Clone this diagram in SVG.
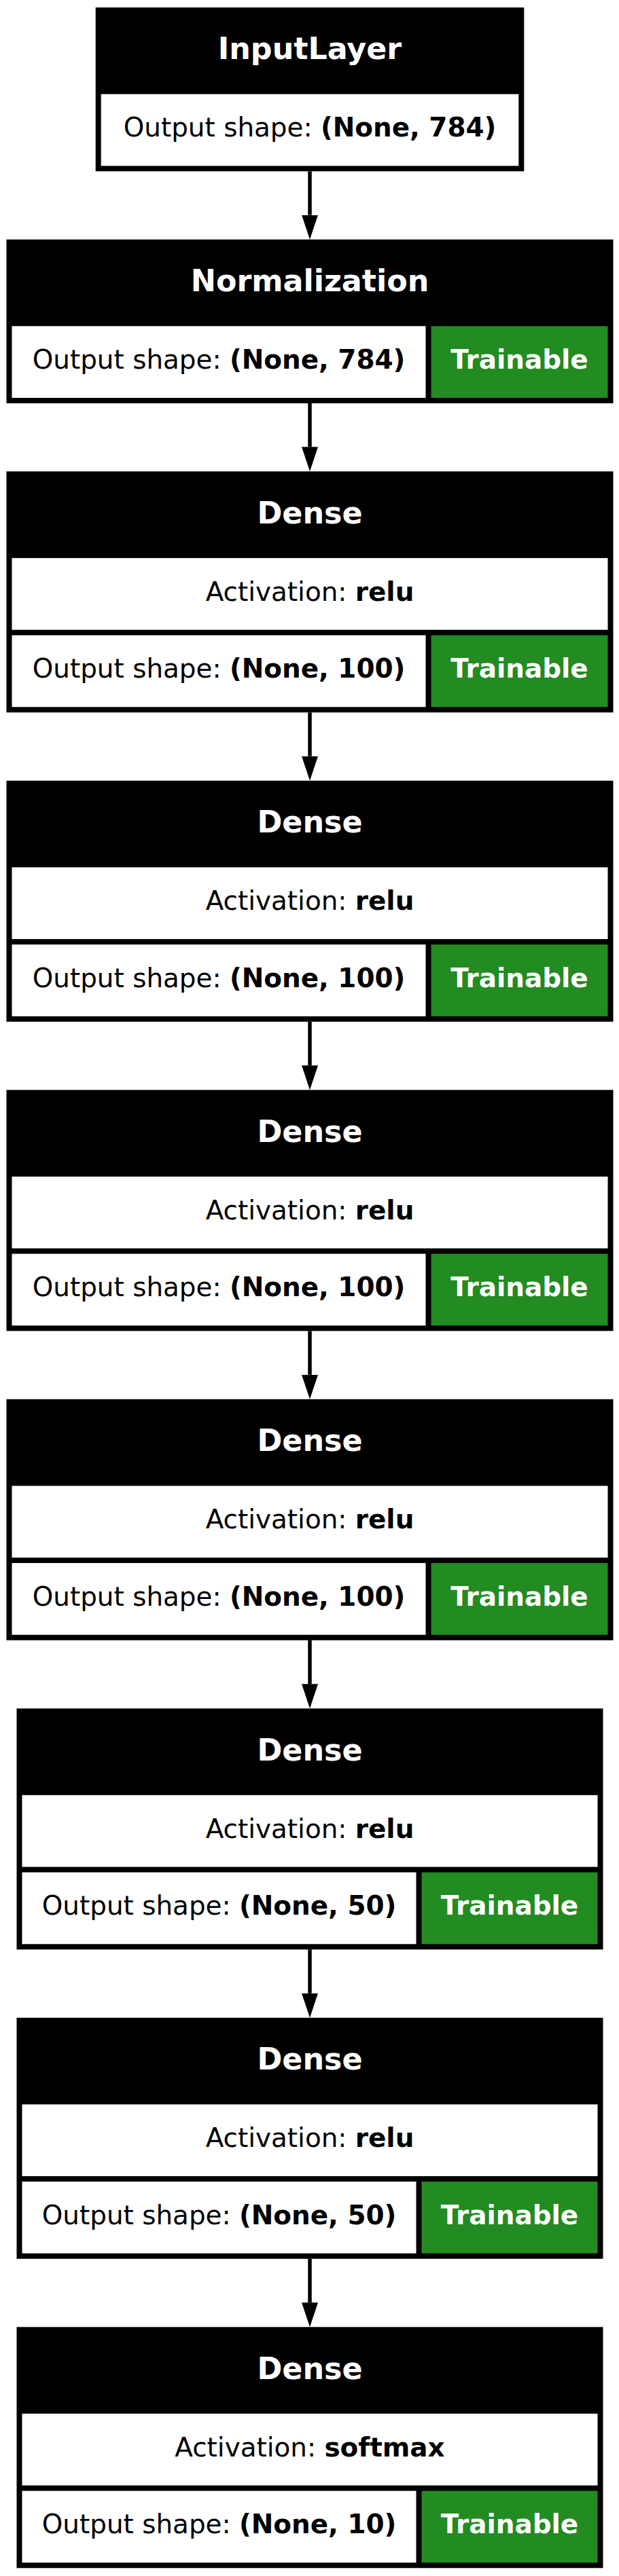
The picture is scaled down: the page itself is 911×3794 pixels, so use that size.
<svg xmlns="http://www.w3.org/2000/svg" width="911" height="3794" viewBox="0 0 911 3794">
<style>
.box{fill:#000}
.cell{fill:#fff}
.tr{fill:#228b22}
.hd{font-family:"DejaVu Sans",sans-serif;font-weight:bold;font-size:44.4px;fill:#fff;text-anchor:middle}
.tx{font-family:"DejaVu Sans",sans-serif;font-size:38.9px;fill:#000;text-anchor:middle}
.tw{font-family:"DejaVu Sans",sans-serif;font-weight:bold;font-size:38.9px;fill:#fff;text-anchor:middle}
.b{font-weight:bold}
.edge{stroke:#000;stroke-width:5.5;fill:none}
</style>
<defs>
<marker id="ah" markerUnits="userSpaceOnUse" markerWidth="36" markerHeight="24" refX="0" refY="12" orient="auto" viewBox="0 0 36 24">
<path d="M0,0 L36,12 L0,24 z" fill="#000"/>
</marker>
</defs>
<g id="connectors">
<line class="edge" x1="456" y1="252.3" x2="456" y2="316.7" marker-end="url(#ah)"/>
<line class="edge" x1="456" y1="594" x2="456" y2="658.3" marker-end="url(#ah)"/>
<line class="edge" x1="456" y1="1049.3" x2="456" y2="1113.8" marker-end="url(#ah)"/>
<line class="edge" x1="456" y1="1504.8" x2="456" y2="1569.3" marker-end="url(#ah)"/>
<line class="edge" x1="456" y1="1960.3" x2="456" y2="2024.8" marker-end="url(#ah)"/>
<line class="edge" x1="456" y1="2415.8" x2="456" y2="2480.3" marker-end="url(#ah)"/>
<line class="edge" x1="456" y1="2871.3" x2="456" y2="2935.8" marker-end="url(#ah)"/>
<line class="edge" x1="456" y1="3326.8" x2="456" y2="3391.3" marker-end="url(#ah)"/>
</g>
<g id="input_layer">
<rect class="box" x="140.7" y="11" width="630.6" height="241.3"/>
<text class="hd" x="456" y="87.4">InputLayer</text>
<rect class="cell" x="148.7" y="138.6" width="614.6" height="105.7"/>
<text class="tx" x="456" y="201.4">Output shape: <tspan class="b">(None, 784)</tspan></text>
</g>
<g id="normalization">
<rect class="box" x="9.5" y="352.7" width="893" height="241.3"/>
<text class="hd" x="456" y="429.1">Normalization</text>
<rect class="cell" x="17.5" y="480.3" width="609" height="105.7"/>
<rect class="tr" x="634.5" y="480.3" width="260" height="105.7"/>
<text class="tx" x="322" y="543.1">Output shape: <tspan class="b">(None, 784)</tspan></text>
<text class="tw" x="764.5" y="543.1">Trainable</text>
</g>
<g id="dense_1">
<rect class="box" x="9.5" y="694.3" width="893" height="355"/>
<text class="hd" x="456" y="770.7">Dense</text>
<rect class="cell" x="17.5" y="821.9" width="877" height="105.7"/>
<text class="tx" x="456" y="884.7">Activation: <tspan class="b">relu</tspan></text>
<rect class="cell" x="17.5" y="935.6" width="609" height="105.7"/>
<rect class="tr" x="634.5" y="935.6" width="260" height="105.7"/>
<text class="tx" x="322" y="998.4">Output shape: <tspan class="b">(None, 100)</tspan></text>
<text class="tw" x="764.5" y="998.4">Trainable</text>
</g>
<g id="dense_2">
<rect class="box" x="9.5" y="1149.8" width="893" height="355"/>
<text class="hd" x="456" y="1226.2">Dense</text>
<rect class="cell" x="17.5" y="1277.4" width="877" height="105.7"/>
<text class="tx" x="456" y="1340.2">Activation: <tspan class="b">relu</tspan></text>
<rect class="cell" x="17.5" y="1391.1" width="609" height="105.7"/>
<rect class="tr" x="634.5" y="1391.1" width="260" height="105.7"/>
<text class="tx" x="322" y="1453.9">Output shape: <tspan class="b">(None, 100)</tspan></text>
<text class="tw" x="764.5" y="1453.9">Trainable</text>
</g>
<g id="dense_3">
<rect class="box" x="9.5" y="1605.3" width="893" height="355"/>
<text class="hd" x="456" y="1681.7">Dense</text>
<rect class="cell" x="17.5" y="1732.9" width="877" height="105.7"/>
<text class="tx" x="456" y="1795.7">Activation: <tspan class="b">relu</tspan></text>
<rect class="cell" x="17.5" y="1846.6" width="609" height="105.7"/>
<rect class="tr" x="634.5" y="1846.6" width="260" height="105.7"/>
<text class="tx" x="322" y="1909.4">Output shape: <tspan class="b">(None, 100)</tspan></text>
<text class="tw" x="764.5" y="1909.4">Trainable</text>
</g>
<g id="dense_4">
<rect class="box" x="9.5" y="2060.8" width="893" height="355"/>
<text class="hd" x="456" y="2137.2">Dense</text>
<rect class="cell" x="17.5" y="2188.4" width="877" height="105.7"/>
<text class="tx" x="456" y="2251.2">Activation: <tspan class="b">relu</tspan></text>
<rect class="cell" x="17.5" y="2302.1" width="609" height="105.7"/>
<rect class="tr" x="634.5" y="2302.1" width="260" height="105.7"/>
<text class="tx" x="322" y="2364.9">Output shape: <tspan class="b">(None, 100)</tspan></text>
<text class="tw" x="764.5" y="2364.9">Trainable</text>
</g>
<g id="dense_5">
<rect class="box" x="24.5" y="2516.3" width="863" height="355"/>
<text class="hd" x="456" y="2592.7">Dense</text>
<rect class="cell" x="32.5" y="2643.9" width="847" height="105.7"/>
<text class="tx" x="456" y="2706.7">Activation: <tspan class="b">relu</tspan></text>
<rect class="cell" x="32.5" y="2757.6" width="580" height="105.7"/>
<rect class="tr" x="620.5" y="2757.6" width="259" height="105.7"/>
<text class="tx" x="322.5" y="2820.4">Output shape: <tspan class="b">(None, 50)</tspan></text>
<text class="tw" x="750" y="2820.4">Trainable</text>
</g>
<g id="dense_6">
<rect class="box" x="24.5" y="2971.8" width="863" height="355"/>
<text class="hd" x="456" y="3048.2">Dense</text>
<rect class="cell" x="32.5" y="3099.4" width="847" height="105.7"/>
<text class="tx" x="456" y="3162.2">Activation: <tspan class="b">relu</tspan></text>
<rect class="cell" x="32.5" y="3213.1" width="580" height="105.7"/>
<rect class="tr" x="620.5" y="3213.1" width="259" height="105.7"/>
<text class="tx" x="322.5" y="3275.9">Output shape: <tspan class="b">(None, 50)</tspan></text>
<text class="tw" x="750" y="3275.9">Trainable</text>
</g>
<g id="dense_7">
<rect class="box" x="24.5" y="3427.3" width="863" height="355"/>
<text class="hd" x="456" y="3503.7">Dense</text>
<rect class="cell" x="32.5" y="3554.9" width="847" height="105.7"/>
<text class="tx" x="456" y="3617.7">Activation: <tspan class="b">softmax</tspan></text>
<rect class="cell" x="32.5" y="3668.6" width="580" height="105.7"/>
<rect class="tr" x="620.5" y="3668.6" width="259" height="105.7"/>
<text class="tx" x="322.5" y="3731.4">Output shape: <tspan class="b">(None, 10)</tspan></text>
<text class="tw" x="750" y="3731.4">Trainable</text>
</g>
</svg>
